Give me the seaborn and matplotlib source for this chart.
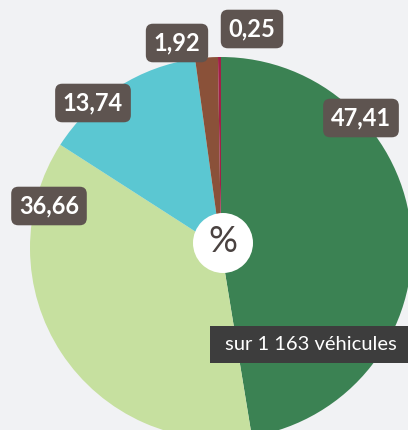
import matplotlib
matplotlib.use("Agg")
import matplotlib.pyplot as plt
from matplotlib.patches import Rectangle, Circle
import seaborn as sns

# data (share of vehicles, %)
categories = ["A", "B", "C", "D", "E"]
shares = [47.41, 36.66, 13.74, 1.92, 0.25]
share_labels = ["47,41", "36,66", "13,74", "1,92", "0,25"]
total_text = "sur 1 163 véhicules"

colors = ["#3b8253", "#c6e09f", "#5bc7d2", "#8a5139", "#a31f48"]
bg = "#f1f2f4"

# label box centres in pixel space (x, y from top)
label_pos = [(361, 118), (49, 206), (93, 103), (177, 43), (252, 29)]

sns.set_theme(style="white")
plt.rcParams["font.family"] = ["Lato", "DejaVu Sans"]

W, H = 408, 430
fig = plt.figure(figsize=(W / 100, H / 100), dpi=100, facecolor=bg)
ax = fig.add_axes([0, 0, 1, 1])
ax.set_facecolor(bg)

ax.pie(shares, colors=colors, startangle=90, counterclock=False,
       center=(221, H - 248), radius=191, wedgeprops=dict(linewidth=0))
ax.set_xlim(0, W)
ax.set_ylim(0, H)
ax.set_aspect("equal")
ax.axis("off")

# centre "%" badge
ax.add_patch(Circle((223, H - 243), 30, facecolor="white", edgecolor="none", zorder=3))
ax.text(223, H - 242, "%", ha="center", va="center", fontsize=26,
        color="#4a4240", zorder=4)

for (x, y), lab in zip(label_pos, share_labels):
    ax.text(x, H - y, lab, ha="center", va="center", fontsize=17,
            fontweight="bold", color="white", zorder=5,
            bbox=dict(boxstyle="round,pad=0.33,rounding_size=0.3",
                      facecolor="#5e5450", edgecolor="none"))

# total box
ax.add_patch(Rectangle((210, H - 363), 210, 37, facecolor="#3d3d3d",
                       edgecolor="none", zorder=5, clip_on=False))
ax.text(225, H - 344.5, total_text, ha="left", va="center", fontsize=14.5,
        color="white", zorder=6)

fig.savefig("out.png", dpi=100, facecolor=bg)
